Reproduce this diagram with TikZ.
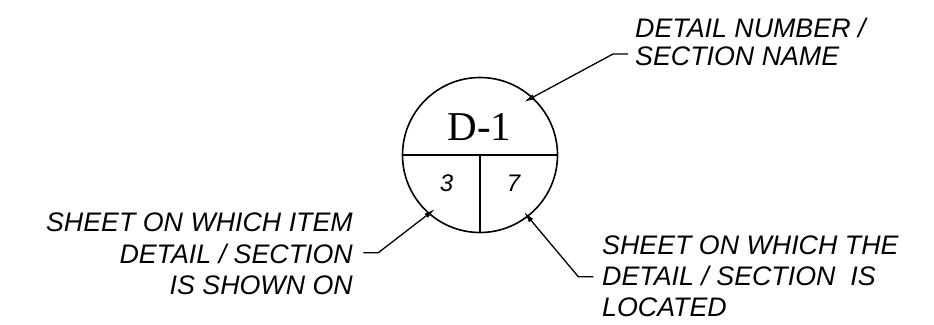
\documentclass[tikz,border=0pt]{standalone}
\usepackage{fontspec}
\newfontfamily\cadsans{Liberation Sans}
\newfontfamily\cadserif{Liberation Serif}
\usetikzlibrary{arrows.meta}
\tikzset{
  leader/.style={line width=1.3pt,-{Latex[length=11pt,width=5.5pt]}},
  callout/.style={inner sep=0pt,font=\cadsans\itshape\fontsize{26.8}{31.5}\selectfont},
  cell/.style={inner sep=0pt,font=\cadsans\itshape\fontsize{24}{24}\selectfont},
}

\begin{document}
\begin{tikzpicture}[x=1pt,y=-1pt]
		%%%%% START %%%%%
		\useasboundingbox (0,0) rectangle (934,324);
		
		\node[draw,circle,line width=1.6pt,minimum size=155pt,inner sep=0pt,outer sep=0pt] (ring) at (480,155) {};
		\draw[line width=1.6pt] (ring.west) -- (ring.east);
		\draw[line width=1.6pt] (ring.center) -- (ring.south);
		
		\node[inner sep=0pt,font=\cadserif\fontsize{41}{41}\selectfont] (detail) at (479.5,127) {D-1};
		\node[cell] (shownon) at (446.5,183.3) {3};
		\node[cell] (locatedon) at (513.5,183.3) {7};
		
		\node[callout,font=\cadsans\itshape\fontsize{26.8}{28.3}\selectfont,align=left,anchor=north west] (nametext) at (635,17.5) {DETAIL NUMBER /\\SECTION NAME};
		\node[callout,align=right,anchor=north east] (itemtext) at (353,213) {SHEET ON WHICH ITEM\\DETAIL / SECTION\\IS SHOWN ON};
		\node[callout,font=\cadsans\itshape\fontsize{26.8}{31}\selectfont,align=left,anchor=north west] (sheettext) at (602,236) {SHEET ON WHICH THE\\DETAIL / SECTION~ IS\\LOCATED};
		
		\coordinate (nameend) at (628,54);
		\coordinate (nameknee) at (613,54);
		\coordinate (nametip) at (524,102);
		\draw[leader] (nameend) -- (nameknee) -- (nametip);
		
		\coordinate (itemend) at (363.3,252.7);
		\coordinate (itemknee) at (378.3,252.7);
		\coordinate (itemtip) at (435,209);
		\draw[leader] (itemend) -- (itemknee) -- (itemtip);
		
		\coordinate (sheetend) at (593.3,276.7);
		\coordinate (sheetknee) at (578.3,276.7);
		\coordinate (sheettip) at (524,212);
		\draw[leader] (sheetend) -- (sheetknee) -- (sheettip);
		%%%%% END %%%%%
\end{tikzpicture}
\end{document}
